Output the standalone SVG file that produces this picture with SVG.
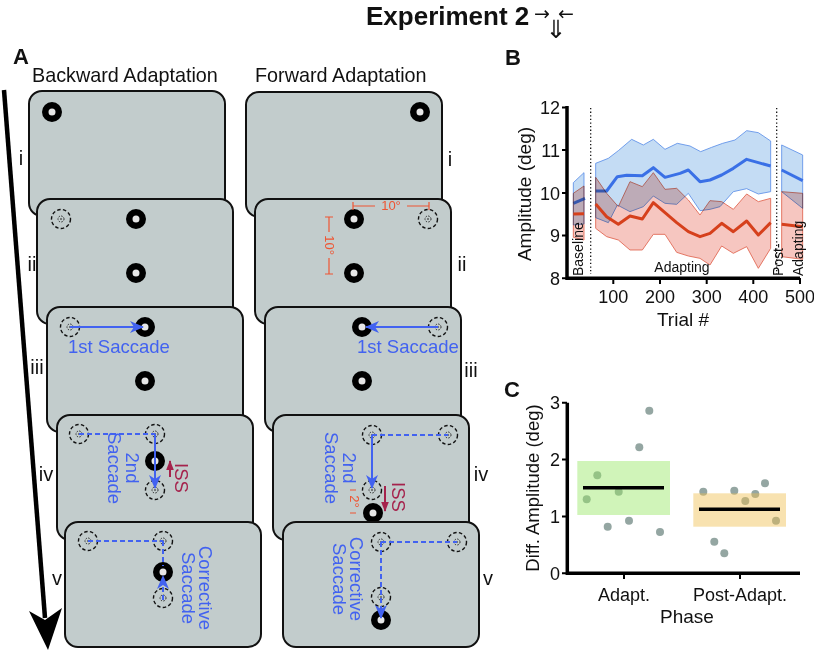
<svg xmlns="http://www.w3.org/2000/svg" width="814" height="652" viewBox="0 0 814 652">
<style>
text{font-family:"Liberation Sans",Arial,sans-serif;fill:#111}
.card{fill:#c2cccc;stroke:#111;stroke-width:2}
.ring{fill:#e6e6e6;stroke:#000;stroke-width:6.5}
.dc{fill:none;stroke:#111;stroke-width:1.4;stroke-dasharray:3.5 2.3}
.dci{fill:none;stroke:#111;stroke-width:0.9;stroke-dasharray:1.4 1.4}
.num{font-size:20px}
.blue{fill:#4262f0;font-size:18.5px}
.iss{fill:#a5224c;font-size:18.5px}
.red{fill:#ee5533;font-size:13px}
.ann{stroke:#ee5533;stroke-width:1.2;fill:none}
.sol{stroke:#4262f0;stroke-width:2;fill:none}
.dash{stroke:#4262f0;stroke-width:2;fill:none;stroke-dasharray:5 3}
.mar{stroke:#a5224c;stroke-width:2;fill:none}
.ax{stroke:#000;stroke-width:3.5;fill:none}
.tk{stroke:#000;stroke-width:2;fill:none}
.tl{font-size:18px}
.bl{font-weight:bold}
.sym{font-family:"DejaVu Sans",sans-serif}
</style>
<defs>
<marker id="ab" markerUnits="userSpaceOnUse" markerWidth="16" markerHeight="14" refX="13" refY="6" orient="auto"><path d="M0,0 L14,6 L0,12 L4,6 z" fill="#4262f0"/></marker>
<marker id="am" markerUnits="userSpaceOnUse" markerWidth="12" markerHeight="10" refX="9" refY="3.8" orient="auto"><path d="M0,0 L10,3.8 L0,7.6 z" fill="#a5224c"/></marker>
<g id="tgt"><circle class="dc" r="9.5"/><circle class="dci" r="3"/><circle r="0.8" fill="#111"/></g>
</defs>

<g id="title">
<text x="366" y="25" class="bl" font-size="26">Experiment 2</text>
<text x="534" y="20" font-size="19" class="sym">→</text>
<text x="556" y="38" font-size="25" text-anchor="middle" class="sym">⇓</text>
<text x="558" y="20" font-size="19" class="sym">←</text>
</g>

<g id="panelA-labels">
<text x="13" y="64" class="bl" font-size="22">A</text>
<text x="32" y="82" font-size="19.8">Backward Adaptation</text>
<text x="255" y="82" font-size="19.8">Forward Adaptation</text>
</g>

<g id="time-arrow">
<line x1="4" y1="90" x2="45" y2="618" stroke="#000" stroke-width="4.5"/>
<path d="M48,650 L29,611 L45,620 L62,608 z" fill="#000"/>
</g>

<!-- left column -->
<g id="L1">
<rect class="card" x="29" y="91" width="196" height="125" rx="13"/>
<circle class="ring" cx="52" cy="112" r="6.75"/>
<text x="21" y="165" class="num" text-anchor="middle">i</text>
</g>
<g id="L2">
<rect class="card" x="37" y="199" width="196" height="125" rx="13"/>
<use href="#tgt" x="61" y="219"/>
<circle class="ring" cx="136" cy="219" r="6.75"/>
<circle class="ring" cx="136" cy="273" r="6.75"/>
<text x="32" y="271" class="num" text-anchor="middle">ii</text>
</g>
<g id="L3">
<rect class="card" x="47" y="307" width="196" height="125" rx="13"/>
<use href="#tgt" x="70" y="327"/>
<circle class="ring" cx="145" cy="327" r="6.75"/>
<circle class="ring" cx="145" cy="381" r="6.75"/>
<text x="68" y="353" class="blue">1st Saccade</text>
<text x="37" y="374" class="num" text-anchor="middle">iii</text>
</g>
<g id="L4">
<rect class="card" x="57" y="415" width="196" height="125" rx="13"/>
<use href="#tgt" x="79" y="434"/>
<use href="#tgt" x="155" y="434"/>
<circle class="ring" cx="155" cy="461" r="6.75"/>
<use href="#tgt" x="155" y="490"/>
<text transform="translate(108,468) rotate(90)" class="blue" text-anchor="middle">Saccade</text>
<text transform="translate(126,468) rotate(90)" class="blue" text-anchor="middle">2nd</text>
<text transform="translate(175,463) rotate(90)" class="iss">ISS</text>
<text x="46" y="481" class="num" text-anchor="middle">iv</text>
</g>
<g id="L5">
<rect class="card" x="65" y="522" width="196" height="125" rx="13"/>
<use href="#tgt" x="88" y="541"/>
<use href="#tgt" x="163" y="541"/>
<circle class="ring" cx="163" cy="572" r="6.75"/>
<use href="#tgt" x="163" y="598"/>
<text transform="translate(182,588) rotate(90)" class="blue" text-anchor="middle">Saccade</text>
<text transform="translate(199,588) rotate(90)" class="blue" text-anchor="middle">Corrective</text>
<text x="57" y="585" class="num" text-anchor="middle">v</text>
</g>

<!-- right column -->
<g id="R1">
<rect class="card" x="246" y="92" width="196" height="125" rx="13"/>
<circle class="ring" cx="420" cy="112" r="6.75"/>
<text x="450" y="166" class="num" text-anchor="middle">i</text>
</g>
<g id="R2">
<rect class="card" x="255" y="199" width="196" height="125" rx="13"/>
<use href="#tgt" x="428" y="219"/>
<circle class="ring" cx="354" cy="219" r="6.75"/>
<circle class="ring" cx="354" cy="273" r="6.75"/>
<path class="ann" d="M353,206 H375 M407,206 H429 M353,202 V210 M429,202 V210"/>
<text x="391" y="210" class="red" text-anchor="middle">10°</text>
<path class="ann" d="M329,217 V232 M329,258 V274 M325,217 H333 M325,274 H333"/>
<text transform="translate(325,245) rotate(90)" class="red" text-anchor="middle">10°</text>
<text x="462" y="271" class="num" text-anchor="middle">ii</text>
</g>
<g id="R3">
<rect class="card" x="265" y="307" width="196" height="125" rx="13"/>
<use href="#tgt" x="438" y="327"/>
<circle class="ring" cx="362" cy="327" r="6.75"/>
<circle class="ring" cx="362" cy="381" r="6.75"/>
<text x="357" y="353" class="blue">1st Saccade</text>
<text x="471" y="377" class="num" text-anchor="middle">iii</text>
</g>
<g id="R4">
<rect class="card" x="273" y="415" width="196" height="125" rx="13"/>
<use href="#tgt" x="372" y="435"/>
<use href="#tgt" x="448" y="435"/>
<use href="#tgt" x="372" y="490"/>
<circle class="ring" cx="373" cy="513" r="6.75"/>
<text transform="translate(325,468) rotate(90)" class="blue" text-anchor="middle">Saccade</text>
<text transform="translate(343,468) rotate(90)" class="blue" text-anchor="middle">2nd</text>
<text transform="translate(392,482) rotate(90)" class="iss">ISS</text>
<path class="ann" d="M350,490 H356 M350,513 H356"/>
<text transform="translate(350,501.5) rotate(90)" class="red" font-size="11" text-anchor="middle">2°</text>
<text x="481" y="481" class="num" text-anchor="middle">iv</text>
</g>
<g id="R5">
<rect class="card" x="283" y="522" width="196" height="125" rx="13"/>
<use href="#tgt" x="381" y="542"/>
<use href="#tgt" x="457" y="542"/>
<use href="#tgt" x="381" y="597"/>
<circle class="ring" cx="381" cy="620" r="6.75"/>
<text transform="translate(333,579) rotate(90)" class="blue" text-anchor="middle">Saccade</text>
<text transform="translate(350,579) rotate(90)" class="blue" text-anchor="middle">Corrective</text>
<text x="488" y="585" class="num" text-anchor="middle">v</text>
</g>

<g id="connectors">
<line class="sol" x1="70" y1="327" x2="143" y2="327" marker-end="url(#ab)"/>
<line class="sol" x1="438" y1="327" x2="366" y2="327" marker-end="url(#ab)"/>
<line class="dash" x1="79" y1="434" x2="155" y2="434"/>
<line class="sol" x1="155" y1="434" x2="155" y2="488" marker-end="url(#ab)"/>
<line class="mar" x1="170" y1="477" x2="170" y2="461" marker-end="url(#am)"/>
<line class="dash" x1="372" y1="435" x2="448" y2="435"/>
<line class="sol" x1="372" y1="435" x2="372" y2="488" marker-end="url(#ab)"/>
<line class="mar" x1="385" y1="486" x2="385" y2="511" marker-end="url(#am)"/>
<line class="dash" x1="88" y1="541" x2="163" y2="541"/>
<line class="dash" x1="163" y1="541" x2="163" y2="566"/>
<line class="dash" x1="163" y1="600" x2="163" y2="576" marker-end="url(#ab)"/>
<line class="dash" x1="381" y1="542" x2="457" y2="542"/>
<line class="dash" x1="381" y1="542" x2="381" y2="618" marker-end="url(#ab)"/>
</g>

<!-- panel B -->
<g id="panelB">
<text x="505" y="65" class="bl" font-size="22">B</text>
<g transform="translate(480,40) scale(0.333333)">
<g stroke="#5a8ee8" stroke-width="2.5" fill="#c4dcf4">
<polygon points="280,428 312,398 312,552 280,555"/>
<polygon points="347,370 385,355 415,332 455,298 490,315 520,298 555,328 592,310 630,318 662,335 695,322 728,310 765,300 800,272 835,278 872,303 872,455 835,462 800,446 760,455 720,500 690,508 660,512 625,460 590,493 555,490 520,468 490,500 450,515 412,495 385,548 347,533"/>
<polygon points="905,315 968,345 968,505 905,455"/>
</g>
<g stroke="#3a70e6" stroke-width="9" fill="none" stroke-linejoin="round">
<polyline points="280,490 315,475"/>
<polyline points="347,453 380,453 412,410 440,406 487,407 520,383 555,412 600,400 625,390 660,425 690,420 725,405 760,385 800,358 835,368 872,378"/>
<polyline points="905,390 968,422"/>
</g>
<g style="mix-blend-mode:multiply" stroke="#e0604a" stroke-width="2.5" fill="#f6c6c0">
<polygon points="280,460 312,438 312,600 280,592"/>
<polygon points="347,412 380,460 415,500 450,425 487,440 520,398 555,448 590,445 625,480 660,525 690,482 725,485 760,508 800,462 835,485 872,475 872,625 835,685 800,620 760,640 725,618 690,675 660,655 625,648 590,637 555,583 520,583 487,630 450,630 415,600 380,590 347,565"/>
<polygon points="905,455 968,460 968,658 905,650"/>
</g>
<g stroke="#d6401c" stroke-width="9" fill="none" stroke-linejoin="round">
<polyline points="280,522 312,521"/>
<polyline points="347,492 380,530 415,553 450,528 487,537 520,488 555,518 590,548 625,575 660,590 690,580 725,550 760,575 800,543 835,585 872,548"/>
<polyline points="905,553 968,560"/>
</g>
</g>
<line x1="590.7" y1="108" x2="590.7" y2="274" stroke="#000" stroke-width="1.2" stroke-dasharray="1.3 2.3"/>
<line x1="776.7" y1="108" x2="776.7" y2="274" stroke="#000" stroke-width="1.2" stroke-dasharray="1.3 2.3"/>
<text transform="translate(583,276) rotate(-90)" font-size="14">Baseline</text>
<text x="682" y="272" font-size="14" text-anchor="middle">Adapting</text>
<text transform="translate(783,276) rotate(-90)" font-size="14">Post-</text>
<text transform="translate(803,276) rotate(-90)" font-size="14">Adapting</text>
<path class="ax" d="M567,106 V278.3 H800"/>
<path class="tk" d="M562,107.5 H567 M562,150 H567 M562,193 H567 M562,235.5 H567 M562,278.3 H567 M613.3,278 V284 M660,278 V284 M706.7,278 V284 M753.3,278 V284 M800,278 V284"/>
<g class="tl" text-anchor="end">
<text x="560" y="114">12</text>
<text x="560" y="156.5">11</text>
<text x="560" y="199.5">10</text>
<text x="560" y="242">9</text>
<text x="560" y="285">8</text>
</g>
<g class="tl" text-anchor="middle">
<text x="613.3" y="303">100</text>
<text x="660" y="303">200</text>
<text x="706.7" y="303">300</text>
<text x="753.3" y="303">400</text>
<text x="800" y="303">500</text>
</g>
<text x="683" y="326" font-size="19" text-anchor="middle">Trial #</text>
<text transform="translate(531,194) rotate(-90)" font-size="19" text-anchor="middle">Amplitude (deg)</text>
</g>

<!-- panel C -->
<g id="panelC">
<text x="504" y="397" class="bl" font-size="22">C</text>
<g fill="#94a6a2">
<circle cx="649.3" cy="410.7" r="4"/><circle cx="639.3" cy="447.3" r="4"/><circle cx="597.3" cy="475.3" r="4"/><circle cx="586.7" cy="499.3" r="4"/>
<circle cx="618.7" cy="491.7" r="4"/><circle cx="607.7" cy="526.7" r="4"/><circle cx="629" cy="520.7" r="4"/><circle cx="660" cy="532" r="4"/>
<circle cx="703.3" cy="491.7" r="4"/><circle cx="734.3" cy="490.7" r="4"/><circle cx="765" cy="483.3" r="4"/><circle cx="755.3" cy="494" r="4"/>
<circle cx="745.3" cy="501" r="4"/><circle cx="776" cy="520.7" r="4"/><circle cx="714.3" cy="541.7" r="4"/><circle cx="724.3" cy="553.3" r="4"/>
</g>
<rect x="577.3" y="461" width="92.7" height="54" fill="#96e664" fill-opacity="0.45"/>
<rect x="693.3" y="493.3" width="92.7" height="33.4" fill="#f0be50" fill-opacity="0.45"/>
<line x1="583" y1="487.7" x2="664" y2="487.7" stroke="#000" stroke-width="3.5"/>
<line x1="699" y1="509.3" x2="780" y2="509.3" stroke="#000" stroke-width="3.5"/>
<path class="ax" d="M567.3,402.7 V573.3 H800"/>
<path class="tk" d="M562,402.7 H567 M562,459.6 H567 M562,516.4 H567 M562,573.3 H567 M624,573 V579 M740,573 V579"/>
<g class="tl" text-anchor="end">
<text x="560" y="409">3</text>
<text x="560" y="466">2</text>
<text x="560" y="523">1</text>
<text x="560" y="580">0</text>
</g>
<text x="624" y="601" class="tl" text-anchor="middle">Adapt.</text>
<text x="740" y="601" class="tl" text-anchor="middle">Post-Adapt.</text>
<text x="687" y="623" font-size="19" text-anchor="middle">Phase</text>
<text transform="translate(539,488) rotate(-90)" font-size="18.5" text-anchor="middle">Diff. Amplitude (deg)</text>
</g>
</svg>
